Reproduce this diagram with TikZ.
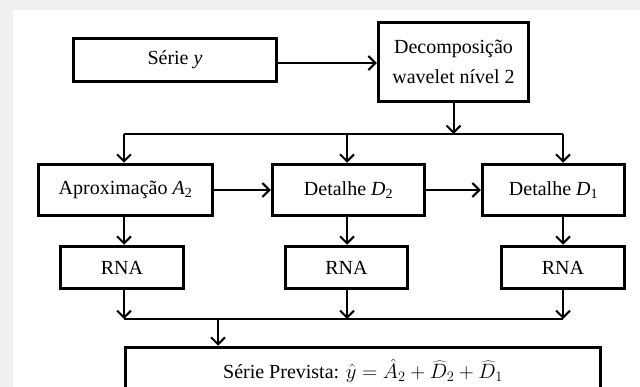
\documentclass[tikz,border=0pt]{standalone}
\usepackage{fontspec}
\setmainfont{Liberation Serif}
\usetikzlibrary{arrows.meta,calc}
\definecolor{bggray}{HTML}{F0F0F0}
\begin{document}
\begin{tikzpicture}[x=1pt,y=-1pt,
  box/.style={draw, line width=3.5pt, inner sep=0pt, font=\fontsize{20}{30}\selectfont},
  arr/.style={line width=2pt, -{Straight Barb[length=7pt,width=14pt]}},
  ln/.style={line width=2pt}]
\fill[bggray] (0,0) rectangle (640,387);
\fill[white] (13,10) rectangle (640,387);
\clip (0,0) rectangle (640,387);
\useasboundingbox (0,0) rectangle (640,387);
% nodes
\node[box, minimum width=203pt, minimum height=43pt] (serie) at (175,60) {Série \textit{y}};
\node[box, minimum width=150pt, minimum height=79pt, align=center] (dec) at (453.5,62) {Decomposição\\wavelet nível 2};
\node[box, minimum width=174pt, minimum height=51pt] (apx) at (125.5,190) {Aproximação \textit{A}\textsubscript{2}};
\node[box, minimum width=152pt, minimum height=51pt] (d2) at (348.5,190) {Detalhe \textit{D}\textsubscript{2}};
\node[box, minimum width=142pt, minimum height=51pt] (d1) at (553.5,190) {Detalhe \textit{D}\textsubscript{1}};
\node[box, minimum width=123pt, minimum height=42pt] (rna1) at (122,267.5) {RNA};
\node[box, minimum width=122pt, minimum height=42pt] (rna2) at (346.5,267.5) {RNA};
\node[box, minimum width=123pt, minimum height=42pt] (rna3) at (563,267.5) {RNA};
\node[box, minimum width=475pt, minimum height=46pt] (fin) at (363,370.5) {Série Prevista: $\hat{y} = \hat{A}_2 + \widehat{D}_2 + \widehat{D}_1$};
% bus coordinates
\coordinate (bt1) at (124,134);
\coordinate (bt2) at (347,134);
\coordinate (bt3) at (563,134);
\coordinate (bb1) at (124,319);
\coordinate (bb2) at (347,319);
\coordinate (bb3) at (563,319);
\coordinate (bb0) at (218,319);
\coordinate (sa) at ($(serie.east)+(0,3)$);
% connectors
\draw[arr] (sa) -- (sa -| dec.west);
\draw[arr] (dec.south) -- (dec.south |- bt1);
\draw[ln] (bt1) -- (bt3);
\draw[arr] (bt1) -- (bt1 |- apx.north);
\draw[arr] (bt2) -- (bt2 |- d2.north);
\draw[arr] (bt3) -- (bt3 |- d1.north);
\draw[arr] (apx.east) -- (d2.west);
\draw[arr] (d2.east) -- (d1.west);
\draw[arr] (bt1 |- apx.south) -- (bt1 |- rna1.north);
\draw[arr] (bt2 |- d2.south) -- (bt2 |- rna2.north);
\draw[arr] (bt3 |- d1.south) -- (bt3 |- rna3.north);
\draw[arr] (bb1 |- rna1.south) -- (bb1);
\draw[arr] (bb2 |- rna2.south) -- (bb2);
\draw[arr] (bb3 |- rna3.south) -- (bb3);
\draw[ln] (bb1) -- (bb3);
\draw[arr] (bb0) -- (bb0 |- fin.north);
\end{tikzpicture}
\end{document}
